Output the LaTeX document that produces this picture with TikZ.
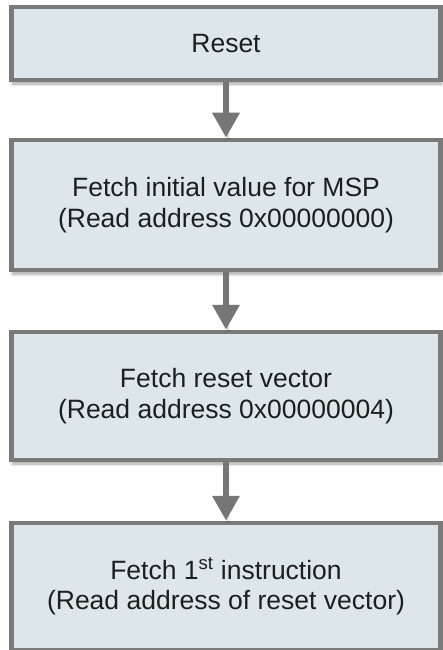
\documentclass[tikz,border=0pt]{standalone}
\usepackage{fontspec}
\setmainfont{Liberation Sans}
\usetikzlibrary{arrows.meta,shadows.blur}
\definecolor{boxfill}{RGB}{220,230,235}
\definecolor{boxline}{RGB}{122,122,122}
\definecolor{arrowcol}{RGB}{118,118,118}
\definecolor{textcol}{RGB}{30,30,30}
\tikzset{
  stepbox/.style={draw=boxline, fill=boxfill, line width=4.5pt, minimum width=429pt,
    inner sep=0pt, align=center, text=textcol,
    font=\fontsize{26.5}{30.5}\selectfont,
    blur shadow={shadow xshift=1pt, shadow yshift=-4pt, shadow blur radius=3pt, shadow opacity=35}},
  flowarrow/.style={draw=arrowcol, line width=6.5pt, -{Triangle[width=26pt,length=25pt]},
    blur shadow={shadow xshift=2pt, shadow yshift=-2pt, shadow blur radius=2pt, shadow opacity=25}}
}
\begin{document}
\begin{tikzpicture}[x=1pt,y=-1pt]
\useasboundingbox (0,0) rectangle (443,650);
\node[stepbox, minimum height=73pt] (reset) at (226,43.5) {Reset};
\node[stepbox, minimum height=130pt] (msp) at (226,205) {Fetch initial value for MSP\\(Read address 0x00000000)};
\node[stepbox, minimum height=128pt] (vec) at (226,396) {Fetch reset vector\\(Read address 0x00000004)};
\node[stepbox, minimum height=127pt] (instr) at (226,586.5) {Fetch 1\textsuperscript{st} instruction\\(Read address of reset vector)};
\draw[flowarrow] (reset.south) -- (msp.north);
\draw[flowarrow] (msp.south) -- (vec.north);
\draw[flowarrow] (vec.south) -- (instr.north);
\end{tikzpicture}
\end{document}
